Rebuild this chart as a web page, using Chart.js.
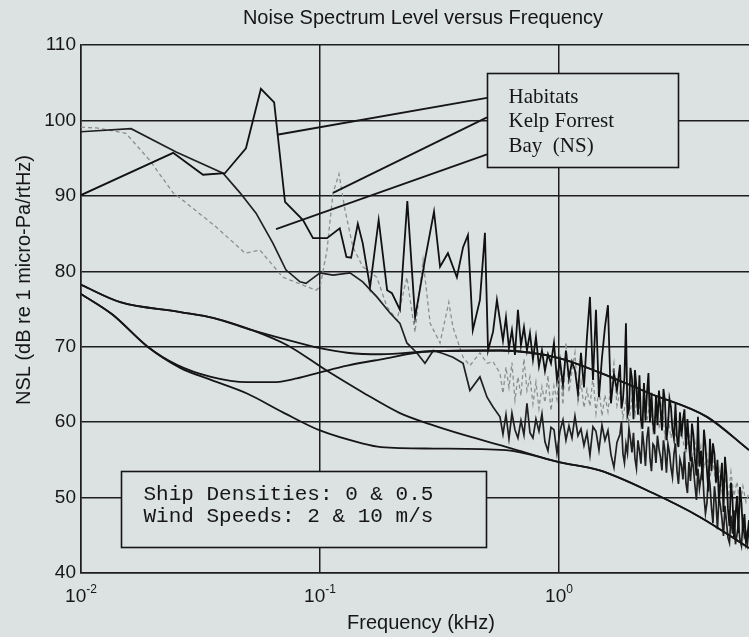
<!DOCTYPE html>
<html>
<head>
<meta charset="utf-8">
<script src="https://cdn.jsdelivr.net/npm/chart.js@4.4.0/dist/chart.umd.min.js"></script>
<style>
  html, body { margin: 0; padding: 0; background: #dce2e2; }
</style>
</head>
<body>
<canvas id="nslChart" width="749" height="637"></canvas>
<script>
// ---- values (frequency in kHz, level in dB) ----

// x axis decades and their exponent labels
const xTickValues = [0.01, 0.1, 1];
const xTickExponents = ['-2', '-1', '0'];

// model curves: ship density / wind speed combinations
const curveS05W10Freq  = [0.01, 0.0146, 0.026, 0.036, 0.052, 0.073, 0.1, 0.13, 0.18, 0.29, 0.57, 1.0, 1.5, 2.4, 4.16, 6.24];
const curveS05W10Level = [78.2, 75.9, 74.6, 73.8, 72.2, 70.9, 69.8, 69.2, 69.0, 69.4, 69.5, 68.5, 66.5, 63.8, 60.7, 56.3];

const curveS0W10Freq  = [0.01, 0.0135, 0.019, 0.0252, 0.035, 0.0495, 0.0636, 0.08, 0.1, 0.13, 0.178, 0.29, 0.57, 1.0, 1.5, 2.4, 4.16, 6.24];
const curveS0W10Level = [77.0, 74.3, 70.0, 67.6, 66.0, 65.3, 65.3, 65.8, 66.6, 67.5, 68.3, 69.4, 69.5, 68.5, 66.5, 63.8, 60.7, 56.3];

const curveS0W2Freq  = [0.01, 0.0135, 0.019, 0.026, 0.035, 0.0495, 0.07, 0.1, 0.15, 0.18, 0.3, 0.6, 1.0, 1.48, 2.47, 3.9, 6.24];
const curveS0W2Level = [77.0, 74.3, 70.0, 67.2, 65.6, 63.8, 61.3, 58.9, 57.2, 56.7, 56.5, 56.3, 54.7, 53.6, 50.6, 47.4, 43.3];

const curveS05W2Freq  = [0.01, 0.0146, 0.026, 0.036, 0.052, 0.073, 0.107, 0.15, 0.216, 0.29, 0.4, 0.62, 1.0, 1.48, 2.47, 3.9, 6.24];
const curveS05W2Level = [78.2, 75.9, 74.6, 73.8, 72.2, 70.2, 66.8, 64.0, 61.2, 59.7, 58.3, 56.6, 54.7, 53.6, 50.6, 47.4, 43.3];

// measured spectra, low / mid frequency part
const habitatsFreq  = [0.01, 0.0243, 0.0324, 0.040, 0.049, 0.0566, 0.0643, 0.0714, 0.0849, 0.0935, 0.107, 0.121, 0.129, 0.135, 0.144, 0.151, 0.162, 0.176, 0.191, 0.200, 0.216, 0.232, 0.250, 0.275, 0.300, 0.318, 0.343, 0.374, 0.397, 0.416, 0.436, 0.467, 0.490, 0.505, 0.530, 0.550];
const habitatsLevel = [90.1, 95.7, 92.8, 93.0, 96.3, 104.2, 102.4, 89.2, 86.8, 84.4, 84.4, 85.7, 81.9, 81.8, 86.3, 83.7, 77.9, 86.8, 77.5, 77.1, 74.9, 89.3, 73.9, 81.5, 87.9, 80.6, 82.4, 79.2, 83.2, 84.8, 72.2, 76.2, 85.1, 69.5, 72.0, 76.2];

const kelpFreq  = [0.01, 0.0116, 0.0154, 0.0194, 0.0243, 0.0267, 0.0367, 0.0486, 0.0561, 0.070, 0.0962, 0.1, 0.107, 0.1134, 0.1201, 0.1273, 0.1374, 0.151, 0.173, 0.1906, 0.21, 0.231, 0.2498, 0.27, 0.289, 0.318, 0.346, 0.36, 0.397, 0.424, 0.467, 0.50, 0.53];
const kelpLevel = [99.1, 99.0, 98.3, 94.7, 90.4, 89.4, 85.9, 82.4, 82.8, 79.2, 77.5, 77.9, 82.8, 90.4, 92.9, 88.1, 83.2, 80.6, 79.2, 75.3, 73.5, 79.2, 71.9, 81.5, 73.1, 70.5, 75.9, 72.6, 68.6, 67.5, 69.2, 67.8, 68.0];

const bayFreq  = [0.01, 0.0162, 0.025, 0.0393, 0.0463, 0.054, 0.0636, 0.072, 0.0825, 0.0874, 0.1, 0.1134, 0.1335, 0.151, 0.173, 0.196, 0.216, 0.231, 0.254, 0.275, 0.298, 0.327, 0.36, 0.397, 0.424, 0.467, 0.50, 0.53];
const bayLevel = [98.5, 98.9, 95.8, 93.0, 90.4, 87.7, 83.7, 80.2, 78.6, 78.4, 79.8, 79.5, 79.8, 78.6, 76.6, 74.5, 73.1, 70.5, 69.2, 67.8, 69.5, 69.1, 68.6, 67.8, 64.2, 66.0, 63.3, 62.0];

// measured spectra, high frequency part (shared frequency bins)
const hfFreq = [0.5664, 0.5830, 0.6001, 0.6177, 0.6357, 0.6544, 0.6735, 0.6934, 0.7137, 0.7346,
  0.7561, 0.7783, 0.8011, 0.8246, 0.8488, 0.8737, 0.8994, 0.9259, 0.9530, 0.9809,
  1.0097, 1.0393, 1.0698, 1.1012, 1.1335, 1.1666, 1.2009, 1.2361, 1.2723, 1.3096,
  1.3480, 1.3876, 1.4283, 1.4701, 1.5132, 1.5576, 1.6032, 1.6502, 1.6987, 1.7484,
  1.7998, 1.8525, 1.9068, 1.9627, 2.0203, 2.0795, 2.1405, 2.2033, 2.2679, 2.3344,
  2.4029, 2.4733, 2.5459, 2.6205, 2.6974, 2.7765, 2.8579, 2.9417, 3.0280, 3.1168,
  3.2082, 3.3023, 3.3992, 3.4988, 3.6015, 3.7071, 3.8158, 3.9277, 4.0429, 4.1615,
  4.2836, 4.4092, 4.5385, 4.6717, 4.8087, 4.9497, 5.0949, 5.2444, 5.3982, 5.5566,
  5.7195, 5.8873, 6.0600, 6.2377];

const habitatsHf = [73.5, 70.8, 73.9, 69.8, 72.2, 68.9, 74.9, 70.2, 72.6, 69.5,
  71.8, 68.3, 71.3, 67.4, 69.5, 66.8, 69.0, 67.8, 70.5, 65.6,
  68.2, 64.9, 69.5, 65.8, 68.0, 66.9, 63.8, 69.2, 64.6, 71.3,
  76.6, 65.6, 74.9, 63.3, 68.5, 72.6, 75.5, 62.5, 66.4, 64.2,
  67.6, 63.0, 73.1, 61.6, 65.8, 66.9, 61.0, 60.3, 65.2, 63.8,
  60.0, 59.9, 63.5, 64.2, 58.9, 62.8, 59.4, 62.0, 57.8, 58.0,
  61.3, 60.3, 56.4, 57.2, 59.8, 55.0, 60.7, 56.2, 59.0, 53.6,
  57.8, 57.2, 52.0, 49.3, 54.6, 55.4, 48.5, 52.0, 44.7, 50.2,
  51.4, 45.5, 44.0, 47.0];

const kelpHf = [66.5, 63.8, 67.3, 64.6, 67.9, 62.9, 66.0, 63.5, 68.4, 64.2,
  66.0, 62.4, 65.3, 61.8, 64.7, 62.6, 66.2, 61.5, 64.8, 63.0,
  67.5, 62.3, 70.5, 64.0, 66.8, 69.2, 62.8, 65.4, 61.9, 64.3,
  62.1, 66.0, 61.2, 64.5, 60.8, 63.6, 61.4, 65.0, 67.8, 62.2,
  64.0, 60.6, 62.9, 59.8, 63.2, 61.0, 64.4, 59.5, 62.0, 60.1,
  63.0, 58.9, 61.6, 59.2, 62.3, 58.0, 60.7, 57.9, 60.1, 56.8,
  59.4, 57.5, 55.8, 58.6, 55.1, 57.4, 54.2, 56.8, 53.9, 55.6,
  52.6, 54.9, 51.7, 53.8, 50.8, 52.9, 49.6, 53.4, 50.2, 52.1,
  48.9, 51.5, 49.4, 50.6];

const bayHf = [60.7, 58.4, 61.0, 57.8, 61.2, 59.0, 57.9, 60.2, 58.3, 62.5,
  58.6, 57.9, 60.4, 58.8, 61.1, 57.4, 56.2, 59.3, 59.0, 55.9,
  58.8, 60.3, 57.6, 59.5, 57.9, 60.8, 58.2, 59.1, 56.9, 58.6,
  55.6, 59.4, 58.8, 56.3, 59.6, 57.6, 58.9, 55.7, 54.0, 57.3,
  58.4, 55.8, 57.1, 59.2, 56.0, 55.2, 57.6, 54.5, 56.8, 57.9,
  55.3, 57.1, 54.6, 56.5, 53.6, 56.2, 57.1, 54.0, 55.8, 53.6,
  55.1, 52.4, 51.9, 54.7, 55.4, 51.6, 53.8, 52.7, 50.2, 49.3,
  51.8, 46.6, 49.4, 50.1, 47.2, 48.9, 44.7, 47.6, 48.3, 45.1,
  44.4, 46.9, 45.3, 46.0];

// extra bins above ~1.8 kHz, where the spectra get densest
const hfMidFreq = [1.8260, 1.8795, 1.9346, 1.9913, 2.0497, 2.1098, 2.1717, 2.2354, 2.3009, 2.3684,
  2.4379, 2.5093, 2.5830, 2.6587, 2.7367, 2.8169, 2.8995, 2.9845, 3.0721, 3.1622,
  3.2549, 3.3504, 3.4487, 3.5497, 3.6539, 3.7611, 3.8714, 3.9849, 4.1018, 4.2221,
  4.3460, 4.4734, 4.6046, 4.7397, 4.8787, 5.0218, 5.1691, 5.3208, 5.4768, 5.6375,
  5.8028, 5.9730, 6.1482];

const habitatsHfMid = [61.8, 66.0, 60.9, 67.2, 60.4, 64.6, 66.2, 59.1, 60.2, 66.5,
  63.9, 58.4, 59.6, 61.8, 64.4, 57.6, 63.1, 59.0, 62.4, 56.7,
  58.1, 61.7, 60.4, 54.8, 58.3, 52.9, 54.1, 52.3, 56.9, 50.8,
  53.5, 55.8, 55.0, 52.2, 48.1, 53.0, 46.2, 49.8, 47.6, 45.3,
  49.2, 47.8, 45.0];

const bayHfMid = [60.1, 54.6, 55.9, 57.8, 58.6, 53.9, 56.2, 58.8, 54.2, 59.4,
  53.5, 56.8, 58.2, 55.4, 57.6, 53.3, 56.0, 52.7, 57.2, 51.8,
  54.3, 56.1, 50.6, 52.2, 53.9, 49.7, 51.2, 54.0, 47.9, 53.1,
  48.7, 51.5, 45.8, 48.9, 44.9, 46.8, 44.0, 45.2, 43.8, 46.5,
  43.6, 44.8, 43.9];

// legend text and pointer lines (box edge -> curve)
const habitatLabels = ['Habitats', 'Kelp Forrest', 'Bay  (NS)'];
const leaderFreqs  = [[0.5, 0.0661], [0.5, 0.1134], [0.5, 0.0655]];
const leaderLevels = [[103.0, 98.1], [100.4, 90.4], [95.5, 85.6]];

const noteLines = ['Ship Densities: 0 & 0.5', 'Wind Speeds: 2 & 10 m/s'];

// ---- layout / style ----
const BG = '#dce2e2';
const INK = '#161616';
const SANS = '"Liberation Sans", Arial, sans-serif';
const legendBox = { left: 0.5, right: 3.15, top: 106.3, bottom: 93.8 };   // data coords
const noteBox = { left: 0.0147, right: 0.495, top: 53.5, bottom: 43.4 };

function toPoints(freqs, levels) {
  return freqs.map((f, i) => ({ x: f, y: levels[i] }));
}

function byFreq(a, b) {
  return a.x - b.x;
}

function modelSet(freqs, levels) {
  return {
    data: toPoints(freqs, levels),
    borderColor: INK,
    borderWidth: 1.8,
    cubicInterpolationMode: 'monotone',
    order: 1
  };
}

const datasets = [];

// pointer lines from the legend box
leaderFreqs.forEach((fr, i) => {
  datasets.push({
    data: toPoints(fr, leaderLevels[i]),
    borderColor: INK,
    borderWidth: 1.8,
    order: 0
  });
});

datasets.push(modelSet(curveS05W10Freq, curveS05W10Level));
datasets.push(modelSet(curveS0W10Freq, curveS0W10Level));
datasets.push(modelSet(curveS0W2Freq, curveS0W2Level));
datasets.push(modelSet(curveS05W2Freq, curveS05W2Level));

datasets.push({
  label: habitatLabels[0],
  data: toPoints(habitatsFreq, habitatsLevel)
    .concat(toPoints(hfFreq, habitatsHf), toPoints(hfMidFreq, habitatsHfMid))
    .sort(byFreq),
  borderColor: '#111',
  borderWidth: 1.8,
  order: 2
});
datasets.push({
  label: habitatLabels[2],
  data: toPoints(bayFreq, bayLevel)
    .concat(toPoints(hfFreq, bayHf), toPoints(hfMidFreq, bayHfMid))
    .sort(byFreq),
  borderColor: '#202020',
  borderWidth: 1.7,
  order: 3
});
datasets.push({
  label: habitatLabels[1],
  data: toPoints(kelpFreq, kelpLevel).concat(toPoints(hfFreq, kelpHf)),
  borderColor: '#8c8f90',
  borderWidth: 1.3,
  borderDash: [4, 3],
  order: 4
});

// background, boxes and the text around the axes
const decorations = {
  id: 'decorations',
  beforeDraw(chart) {
    const ctx = chart.ctx;
    ctx.save();
    ctx.fillStyle = BG;
    ctx.fillRect(0, 0, chart.width, chart.height);
    ctx.restore();
  },
  afterDatasetsDraw(chart) {
    const ctx = chart.ctx;
    const xs = chart.scales.x, ys = chart.scales.y;

    function box(b) {
      const l = Math.round(xs.getPixelForValue(b.left)) + 0.5;
      const r = Math.round(xs.getPixelForValue(b.right)) + 0.5;
      const t = Math.round(ys.getPixelForValue(b.top)) + 0.5;
      const btm = Math.round(ys.getPixelForValue(b.bottom)) + 0.5;
      ctx.fillStyle = BG;
      ctx.fillRect(l, t, r - l, btm - t);
      ctx.strokeStyle = INK;
      ctx.lineWidth = 1.6;
      ctx.strokeRect(l, t, r - l, btm - t);
      return { l, t };
    }

    ctx.save();
    const lb = box(legendBox);
    ctx.fillStyle = INK;
    ctx.font = '21px "Liberation Serif", "Times New Roman", serif';
    ctx.textBaseline = 'alphabetic';
    habitatLabels.forEach((txt, i) => {
      ctx.fillText(txt, lb.l + 21, lb.t + 29 + i * 24.5);
    });

    const nb = box(noteBox);
    ctx.fillStyle = INK;
    ctx.font = '21px "Liberation Mono", "Courier New", monospace';
    noteLines.forEach((txt, i) => {
      ctx.fillText(txt, nb.l + 22, nb.t + 28 + i * 22);
    });
    ctx.restore();
  },
  afterDraw(chart) {
    const ctx = chart.ctx;
    const xs = chart.scales.x;
    ctx.save();
    ctx.fillStyle = INK;
    ctx.textBaseline = 'alphabetic';

    // decade labels 10^n
    xTickValues.forEach((v, i) => {
      const px = xs.getPixelForValue(v);
      ctx.font = '19px ' + SANS;
      const w1 = ctx.measureText('10').width;
      ctx.font = '12px ' + SANS;
      const w2 = ctx.measureText(xTickExponents[i]).width;
      const x0 = px - (w1 + w2) / 2;
      ctx.font = '19px ' + SANS;
      ctx.fillText('10', x0, 602);
      ctx.font = '12px ' + SANS;
      ctx.fillText(xTickExponents[i], x0 + w1, 593);
    });

    ctx.textAlign = 'center';
    ctx.font = '20px ' + SANS;
    ctx.fillText('Noise Spectrum Level versus Frequency', 423, 24);
    ctx.fillText('Frequency (kHz)', 421, 629);

    ctx.translate(24, 280);
    ctx.rotate(-Math.PI / 2);
    ctx.textBaseline = 'middle';
    ctx.fillText('NSL (dB re 1 micro-Pa/rtHz)', 0, 0);
    ctx.restore();
  }
};

new Chart(document.getElementById('nslChart').getContext('2d'), {
  type: 'line',
  data: { datasets },
  options: {
    responsive: false,
    animation: false,
    events: [],
    elements: { point: { radius: 0 }, line: { tension: 0 } },
    layout: { padding: { top: 45, right: 0, bottom: 64, left: 0 } },
    plugins: {
      legend: { display: false },
      tooltip: { enabled: false },
      title: { display: false }
    },
    scales: {
      x: {
        type: 'logarithmic',
        min: 0.01,
        max: 6.24,
        afterBuildTicks: (scale) => {
          scale.ticks = xTickValues.map(v => ({ value: v }));
        },
        afterFit: (scale) => { scale.height = 0; },
        ticks: { display: false },
        grid: { color: '#1e1e1e', lineWidth: 1.5, drawTicks: false },
        border: { color: '#1e1e1e', width: 1.5 }
      },
      y: {
        min: 40,
        max: 110,
        afterFit: (scale) => { scale.width = 81; },
        ticks: {
          stepSize: 10,
          padding: 5,
          color: INK,
          font: { family: SANS, size: 19 }
        },
        grid: { color: '#1e1e1e', lineWidth: 1.5, drawTicks: false },
        border: { color: '#1e1e1e', width: 1.5 }
      }
    }
  },
  plugins: [decorations]
});
</script>
</body>
</html>
